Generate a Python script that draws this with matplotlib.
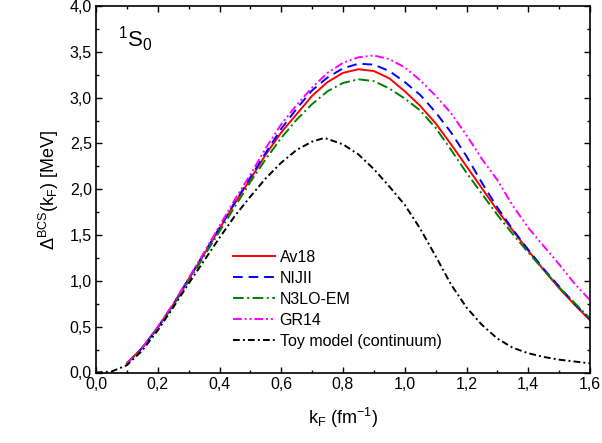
import matplotlib
matplotlib.use("Agg")
import matplotlib.pyplot as plt
from matplotlib.ticker import MultipleLocator, FuncFormatter

plt.rcParams['font.family'] = ['Liberation Sans', 'DejaVu Sans']
plt.rcParams['mathtext.fontset'] = 'custom'
plt.rcParams['mathtext.rm'] = 'Liberation Sans'
plt.rcParams['mathtext.it'] = 'Liberation Sans'
plt.rcParams['mathtext.bf'] = 'Liberation Sans:bold'

# ---- data ----
kF = [0.10, 0.15, 0.20, 0.25, 0.30, 0.35, 0.40, 0.45, 0.50, 0.55,
      0.60, 0.65, 0.70, 0.75, 0.80, 0.85, 0.90, 0.95, 1.00, 1.05, 1.10, 1.15,
      1.20, 1.25, 1.30, 1.35, 1.40, 1.45, 1.50, 1.55, 1.60]

av18 = [0.10, 0.27, 0.49, 0.74, 1.02, 1.29, 1.57, 1.85, 2.11, 2.38,
        2.62, 2.82, 3.02, 3.17, 3.27, 3.31, 3.29, 3.21, 3.07, 2.91, 2.72, 2.49,
        2.25, 2.01, 1.77, 1.55, 1.33, 1.12, 0.92, 0.74, 0.57]

nijii = [0.10, 0.27, 0.49, 0.74, 1.02, 1.30, 1.58, 1.86, 2.13, 2.40,
         2.66, 2.88, 3.08, 3.22, 3.32, 3.37, 3.36, 3.29, 3.17, 3.03, 2.84, 2.62,
         2.36, 2.07, 1.80, 1.56, 1.34, 1.13, 0.94, 0.75, 0.58]

n3lo = [0.10, 0.27, 0.49, 0.73, 1.00, 1.27, 1.54, 1.81, 2.08, 2.33,
        2.56, 2.76, 2.93, 3.07, 3.16, 3.20, 3.18, 3.10, 2.99, 2.86, 2.67, 2.43,
        2.18, 1.95, 1.72, 1.51, 1.31, 1.12, 0.93, 0.76, 0.59]

gr14 = [0.10, 0.27, 0.50, 0.75, 1.03, 1.31, 1.60, 1.89, 2.16, 2.45,
        2.71, 2.92, 3.11, 3.27, 3.38, 3.44, 3.46, 3.42, 3.33, 3.19, 3.02, 2.83,
        2.59, 2.33, 2.10, 1.82, 1.58, 1.38, 1.18, 0.97, 0.79]

kF_toy = [0.00, 0.05, 0.10, 0.15, 0.20, 0.25, 0.30, 0.35, 0.40, 0.45, 0.50, 0.55,
          0.60, 0.65, 0.70, 0.74, 0.80, 0.85, 0.90, 0.95, 1.00, 1.05, 1.10, 1.15,
          1.20, 1.25, 1.30, 1.35, 1.40, 1.45, 1.50, 1.55, 1.60]
toy = [0.00, 0.01, 0.08, 0.24, 0.46, 0.71, 0.97, 1.22, 1.47, 1.71, 1.92, 2.12,
       2.29, 2.43, 2.52, 2.56, 2.49, 2.38, 2.22, 2.03, 1.83, 1.57, 1.27, 0.96,
       0.71, 0.52, 0.37, 0.27, 0.21, 0.17, 0.14, 0.12, 0.10]

labels = ["Av18", "NIJII", "N3LO-EM", "GR14", "Toy model (continuum)"]
colors = ["#ff0000", "#0000ff", "#008000", "#ff00ff", "#000000"]
styles = ["-", (0, (5, 3)), (0, (5.5, 1.8, 1, 1.8)),
          (0, (4.5, 1.5, 1, 1.5, 1, 1.5)), (0, (3.5, 1.6, 1, 1.6))]
xs = [kF, kF, kF, kF, kF_toy]
series = [av18, nijii, n3lo, gr14, toy]

fig = plt.figure(figsize=(6.02, 4.43), dpi=100)
ax = fig.add_axes([96/602, 1-372.5/443, (590-96)/602, (372.5-6)/443])

for x, y, lab, c, ls in zip(xs, series, labels, colors, styles):
    ax.plot(x, y, color=c, linestyle=ls, lw=1.4, label=lab)

ax.set_xlim(0.0, 1.6)
ax.set_ylim(0.0, 4.0)
ax.xaxis.set_major_locator(MultipleLocator(0.2))
ax.xaxis.set_minor_locator(MultipleLocator(0.1))
ax.yaxis.set_major_locator(MultipleLocator(0.5))
ax.yaxis.set_minor_locator(MultipleLocator(0.25))
fmt = FuncFormatter(lambda v, p: f"{v:.1f}".replace(".", ","))
ax.xaxis.set_major_formatter(fmt)
ax.yaxis.set_major_formatter(fmt)
ax.tick_params(which='both', direction='in', top=True, right=True,
               labelsize=11.5, width=1.0, colors='black')
ax.tick_params(which='major', length=4.5, pad=3)
ax.tick_params(which='minor', length=2.3)
for s in ax.spines.values():
    s.set_linewidth(1.2)

ax.set_xlabel(r"k$\mathregular{_F}$ (fm$\mathregular{^{-1}}$)", fontsize=13, labelpad=10)
ax.set_ylabel(r"Δ$\mathregular{^{BCS}}$(k$\mathregular{_F}$) [MeV]", fontsize=13, labelpad=6)

ax.text(0.045, 0.888, r"$\mathregular{^1S_0}$", transform=ax.transAxes,
        fontsize=16, ha='left', va='baseline')

ax.legend(loc='upper left', bbox_to_anchor=(0.265, 0.353), frameon=False,
          fontsize=11.5, handlelength=2.6, handletextpad=0.3,
          labelspacing=0.38, borderaxespad=0)

fig.savefig("out.png", dpi=100)
